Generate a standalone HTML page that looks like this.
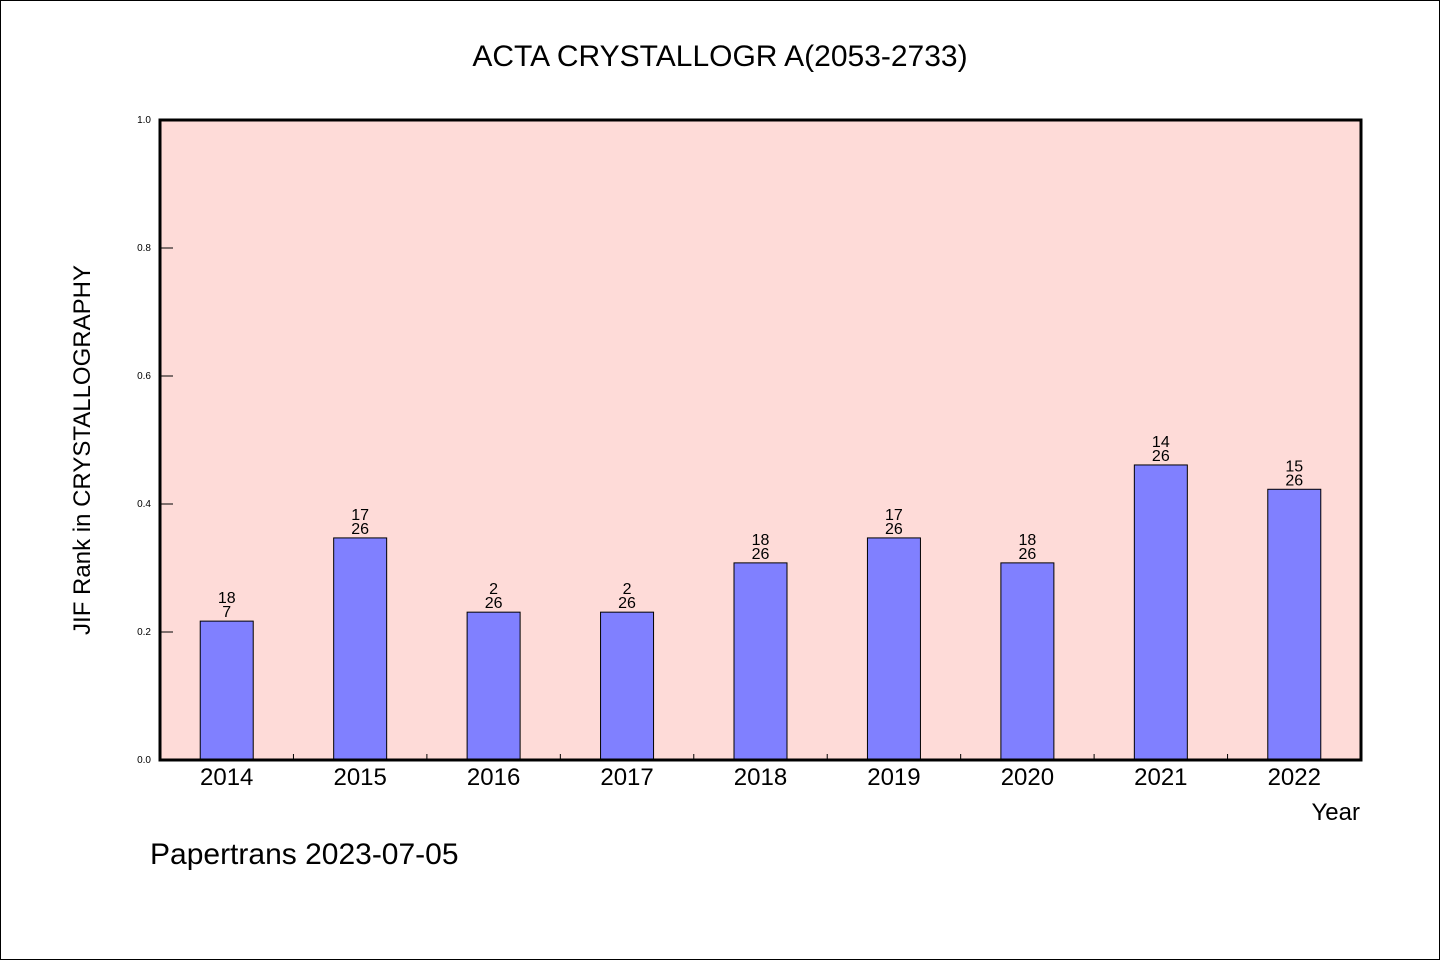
<!DOCTYPE html>
<html><head><meta charset="utf-8"><style>
body{margin:0;background:#fff}
svg text{font-family:"WenQuanYi Zen Hei","Liberation Sans",sans-serif}
</style></head><body>
<svg width="1440" height="960" xmlns="http://www.w3.org/2000/svg">
<rect x="0.5" y="0.5" width="1439" height="959" fill="#fff" stroke="#000"/>
<text x="720" y="66" font-size="30" text-anchor="middle">ACTA CRYSTALLOGR A(2053-2733)</text>
<rect x="160" y="120" width="1201" height="640" fill="#fedbd8"/>
<g id="bars"></g>
<g id="yaxis"></g>
<g id="xaxis"></g>
<rect x="160" y="120" width="1201" height="640" fill="none" stroke="#000" stroke-width="3"/>
<text transform="translate(90,450) rotate(-90)" font-size="24" text-anchor="middle">JIF Rank in CRYSTALLOGRAPHY</text>
<text x="1360" y="820" font-size="24" text-anchor="end">Year</text>
<text x="150" y="864" font-size="30">Papertrans 2023-07-05</text>
</svg>
<script>
const categories=["2014","2015","2016","2017","2018","2019","2020","2021","2022"];
const values=[0.217,0.347,0.231,0.231,0.308,0.347,0.308,0.461,0.423];
const labelTop=["18","17","2","2","18","17","18","14","15"];
const labelBottom=["7","26","26","26","26","26","26","26","26"];
const yTicks=[0,0.2,0.4,0.6,0.8,1.0];
const NS="http://www.w3.org/2000/svg";
const X0=160,W=1201,Y0=760,H=640;
const band=W/categories.length;
const xc=i=>X0+band*(i+0.5);
const ys=v=>Y0-v*H;
function mk(t,a,p){const e=document.createElementNS(NS,t);for(const k in a)e.setAttribute(k,a[k]);p.appendChild(e);return e;}
const gb=document.getElementById('bars'),gy=document.getElementById('yaxis'),gx=document.getElementById('xaxis');
categories.forEach((c,i)=>{
  const bw=53;
  const r=mk('rect',{x:xc(i)-bw/2,y:ys(values[i]),width:bw,height:Y0-ys(values[i]),fill:'#8080ff',stroke:'#000','stroke-width':1},gb);
  
  
  const t1=mk('text',{x:xc(i),y:ys(values[i])-18,'font-size':16,'text-anchor':'middle'},gb);t1.textContent=labelTop[i];
  
  
  const t2=mk('text',{x:xc(i),y:ys(values[i])-4,'font-size':16,'text-anchor':'middle'},gb);t2.textContent=labelBottom[i];
  
  
  const xl=mk('text',{x:xc(i),y:785,'font-size':24,'text-anchor':'middle'},gx);xl.textContent=c;
  
  
  if(i>0){const tk=mk('line',{x1:X0+band*i,x2:X0+band*i,y1:Y0,y2:Y0-6,stroke:'#000'},gx);
  
  }
});
yTicks.forEach(v=>{
  const l=mk('line',{x1:X0,x2:X0+13,y1:ys(v),y2:ys(v),stroke:'#000'},gy);
  
  
  const t=mk('text',{x:151,y:ys(v)+3,'font-size':10,'text-anchor':'end'},gy);t.textContent=v.toFixed(1);
  
  
});
</script>
</body></html>
